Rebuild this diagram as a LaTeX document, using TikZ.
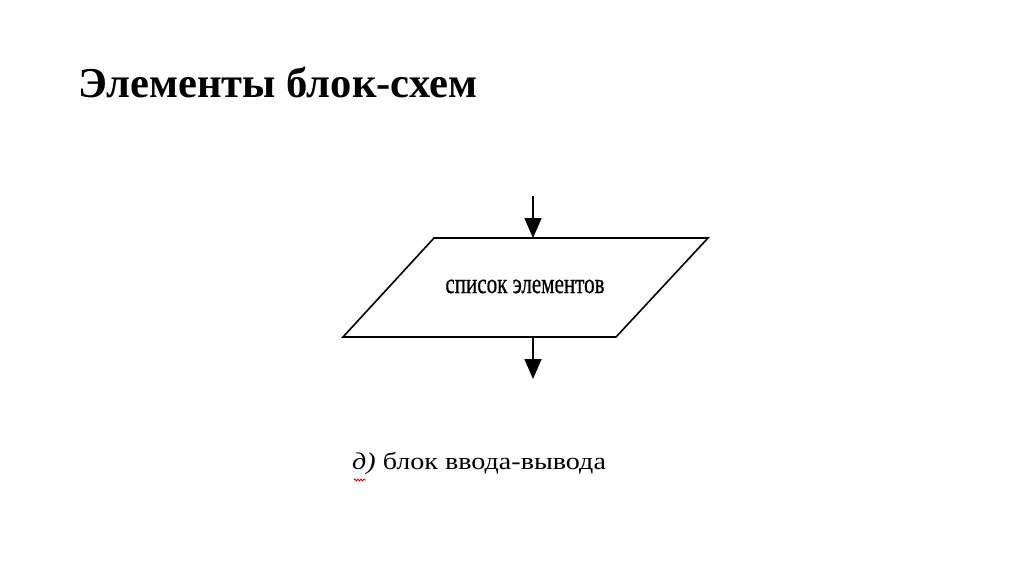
\documentclass[tikz,border=0pt]{standalone}
\usepackage{fontspec}
\setmainfont{Liberation Serif}
\usetikzlibrary{arrows.meta,decorations.pathmorphing}
\tikzset{
  line/.style={line width=1.6pt},
  flow/.style={line width=1.6pt,-{Triangle[length=20pt,width=17pt]}},
  lbl/.style={inner sep=0pt,anchor=base},
}
\begin{document}
\begin{tikzpicture}[x=1pt,y=-1pt]
\useasboundingbox[fill=white] (0,0) rectangle (1024,574);
\node[lbl,anchor=base west] (title) at (78,97) {\fontsize{42.6}{42.6}\selectfont\bfseries Элементы блок-схем};
\coordinate (tl) at (434,238);
\coordinate (tr) at (708,238);
\coordinate (br) at (616,337);
\coordinate (bl) at (343,337);
\coordinate (in) at (533,196);
\coordinate (top) at (533,238);
\coordinate (bot) at (533,337);
\coordinate (out) at (533,379);
\draw[line] (tl) -- (tr) -- (br) -- (bl) -- cycle;
\draw[flow] (in) -- (top);
\draw[flow] (bot) -- (out);
\node[lbl,xscale=0.78,yscale=1.05] (txt) at (525,293) {\fontsize{27}{27}\selectfont\addfontfeatures{FakeBold=0.8}список элементов};
\node[lbl,anchor=base west,xscale=1.17] (cap) at (352,469) {\fontsize{24}{24}\selectfont\textit{д)} блок ввода-вывода};
\coordinate (s1) at (354,480);
\coordinate (s2) at (366,480);
\draw[red!80!black,line width=0.8pt,decorate,decoration={snake,amplitude=1pt,segment length=3pt}] (s1) -- (s2);
\end{tikzpicture}
\end{document}
